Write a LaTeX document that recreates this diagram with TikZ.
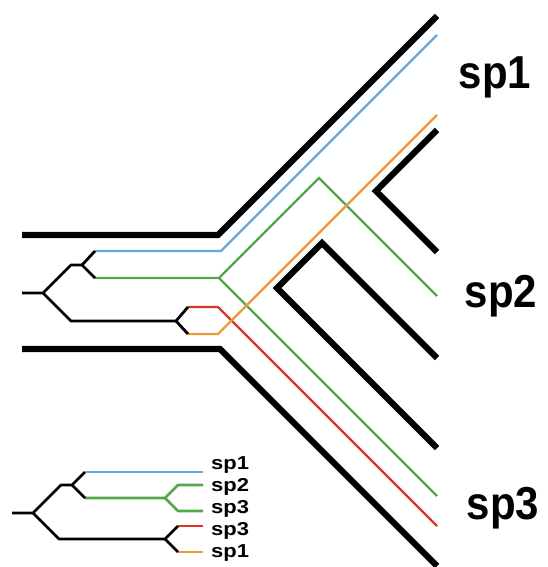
\documentclass[tikz,border=0pt]{standalone}
\usepackage{fontspec}
\setmainfont{Liberation Sans}
\definecolor{cblue}{RGB}{95,170,225}
\definecolor{cgreen}{RGB}{85,165,75}
\definecolor{cred}{RGB}{215,55,35}
\definecolor{corange}{RGB}{235,155,55}
\tikzset{
  wall/.style={line width=6.3pt, black},
  tree/.style={line width=2.8pt, black, line join=round},
  gene/.style={line width=2.3pt},
  legline/.style={line width=2.8pt, line join=round},
  biglab/.style={font=\fontsize{42}{42}\selectfont\bfseries, yscale=1.1, inner sep=0pt, anchor=base},
  smalllab/.style={font=\fontsize{22}{22}\selectfont\bfseries, yscale=0.85, inner sep=0pt, anchor=base west},
}
\begin{document}
\begin{tikzpicture}[x=1pt,y=-1pt]
\useasboundingbox (0,0) rectangle (548,567);
% ---- species tree walls ----
\coordinate (tw0) at (22,235); \coordinate (tw1) at (218,235); \coordinate (tw2) at (437,16);
\coordinate (bw0) at (22,349); \coordinate (bw1) at (220,349); \coordinate (bw2) at (437,566);
\coordinate (va) at (437,130); \coordinate (vb) at (376,191); \coordinate (vc) at (437,252);
\coordinate (la) at (437,358); \coordinate (lb) at (322,243); \coordinate (lc) at (277,288); \coordinate (ld) at (437,448);
\draw[wall] (tw0) -- (tw1) -- (tw2);
\draw[wall] (bw0) -- (bw1) -- (bw2);
\draw[wall] (va) -- (vb) -- (vc);
\draw[wall] (la) -- (lb) -- (lc) -- (ld);
% ---- gene tree inside ----
\coordinate (r0) at (22,293); \coordinate (r1) at (43,293);
\coordinate (u1) at (71,265); \coordinate (u2) at (82,265);
\coordinate (bl0) at (95,251); \coordinate (bl1) at (221,251); \coordinate (bl2) at (437,35);
\coordinate (gr0) at (95,278); \coordinate (gr1) at (219,278); \coordinate (gr2) at (319,178); \coordinate (gr3) at (437,296); \coordinate (gr4) at (437,496);
\coordinate (d1) at (71,321); \coordinate (d2) at (176,321);
\coordinate (re0) at (188,307); \coordinate (re1) at (218,307); \coordinate (re2) at (437,526);
\coordinate (or0) at (188,334); \coordinate (or1) at (218,334); \coordinate (or2) at (437,115);
\draw[gene, cgreen] (gr0) -- (gr1) -- (gr2) -- (gr3);
\draw[gene, cgreen] (gr1) -- (gr4);
\draw[gene, cblue] (bl0) -- (bl1) -- (bl2);
\draw[gene, cred] (re0) -- (re1) -- (re2);
\draw[gene, corange] (or0) -- (or1) -- (or2);
\draw[tree] (r0) -- (r1) -- (u1) -- (u2) -- (bl0);
\draw[tree] (u2) -- (gr0);
\draw[tree] (r1) -- (d1) -- (d2) -- (re0);
\draw[tree] (d2) -- (or0);
% ---- big labels ----
\node[biglab] (L1) at (495,89) {sp1};
\node[biglab] (L2) at (501,307) {sp2};
\node[biglab] (L3) at (503,519) {sp3};
% ---- legend tree ----
\coordinate (k0) at (12,513); \coordinate (k1) at (33,513);
\coordinate (k2) at (61,485); \coordinate (k3) at (72,485);
\coordinate (kb0) at (85,472); \coordinate (kb1) at (203,472);
\coordinate (kg0) at (85,498); \coordinate (kg1) at (165,498);
\coordinate (kg2) at (178,485); \coordinate (kg3) at (203,485);
\coordinate (kg4) at (178,511); \coordinate (kg5) at (203,511);
\coordinate (k4) at (59,539); \coordinate (k5) at (165,539);
\coordinate (kr0) at (178,526); \coordinate (kr1) at (203,526);
\coordinate (ko0) at (178,552); \coordinate (ko1) at (203,552);
\draw[legline, cblue] (kb0) -- (kb1);
\draw[legline, cgreen] (kg0) -- (kg1) -- (kg2) -- (kg3);
\draw[legline, cgreen] (kg1) -- (kg4) -- (kg5);
\draw[legline, cred] (kr0) -- (kr1);
\draw[legline, corange] (ko0) -- (ko1);
\draw[legline, black] (k0) -- (k1) -- (k2) -- (k3) -- (kb0);
\draw[legline, black] (k3) -- (kg0);
\draw[legline, black] (k1) -- (k4) -- (k5) -- (kr0);
\draw[legline, black] (k5) -- (ko0);
% ---- legend labels ----
\node[smalllab] (s1) at (211,469.5) {sp1};
\node[smalllab] (s2) at (211,491) {sp2};
\node[smalllab] (s3) at (211,513) {sp3};
\node[smalllab] (s4) at (211,535) {sp3};
\node[smalllab] (s5) at (211,557) {sp1};
\end{tikzpicture}
\end{document}
